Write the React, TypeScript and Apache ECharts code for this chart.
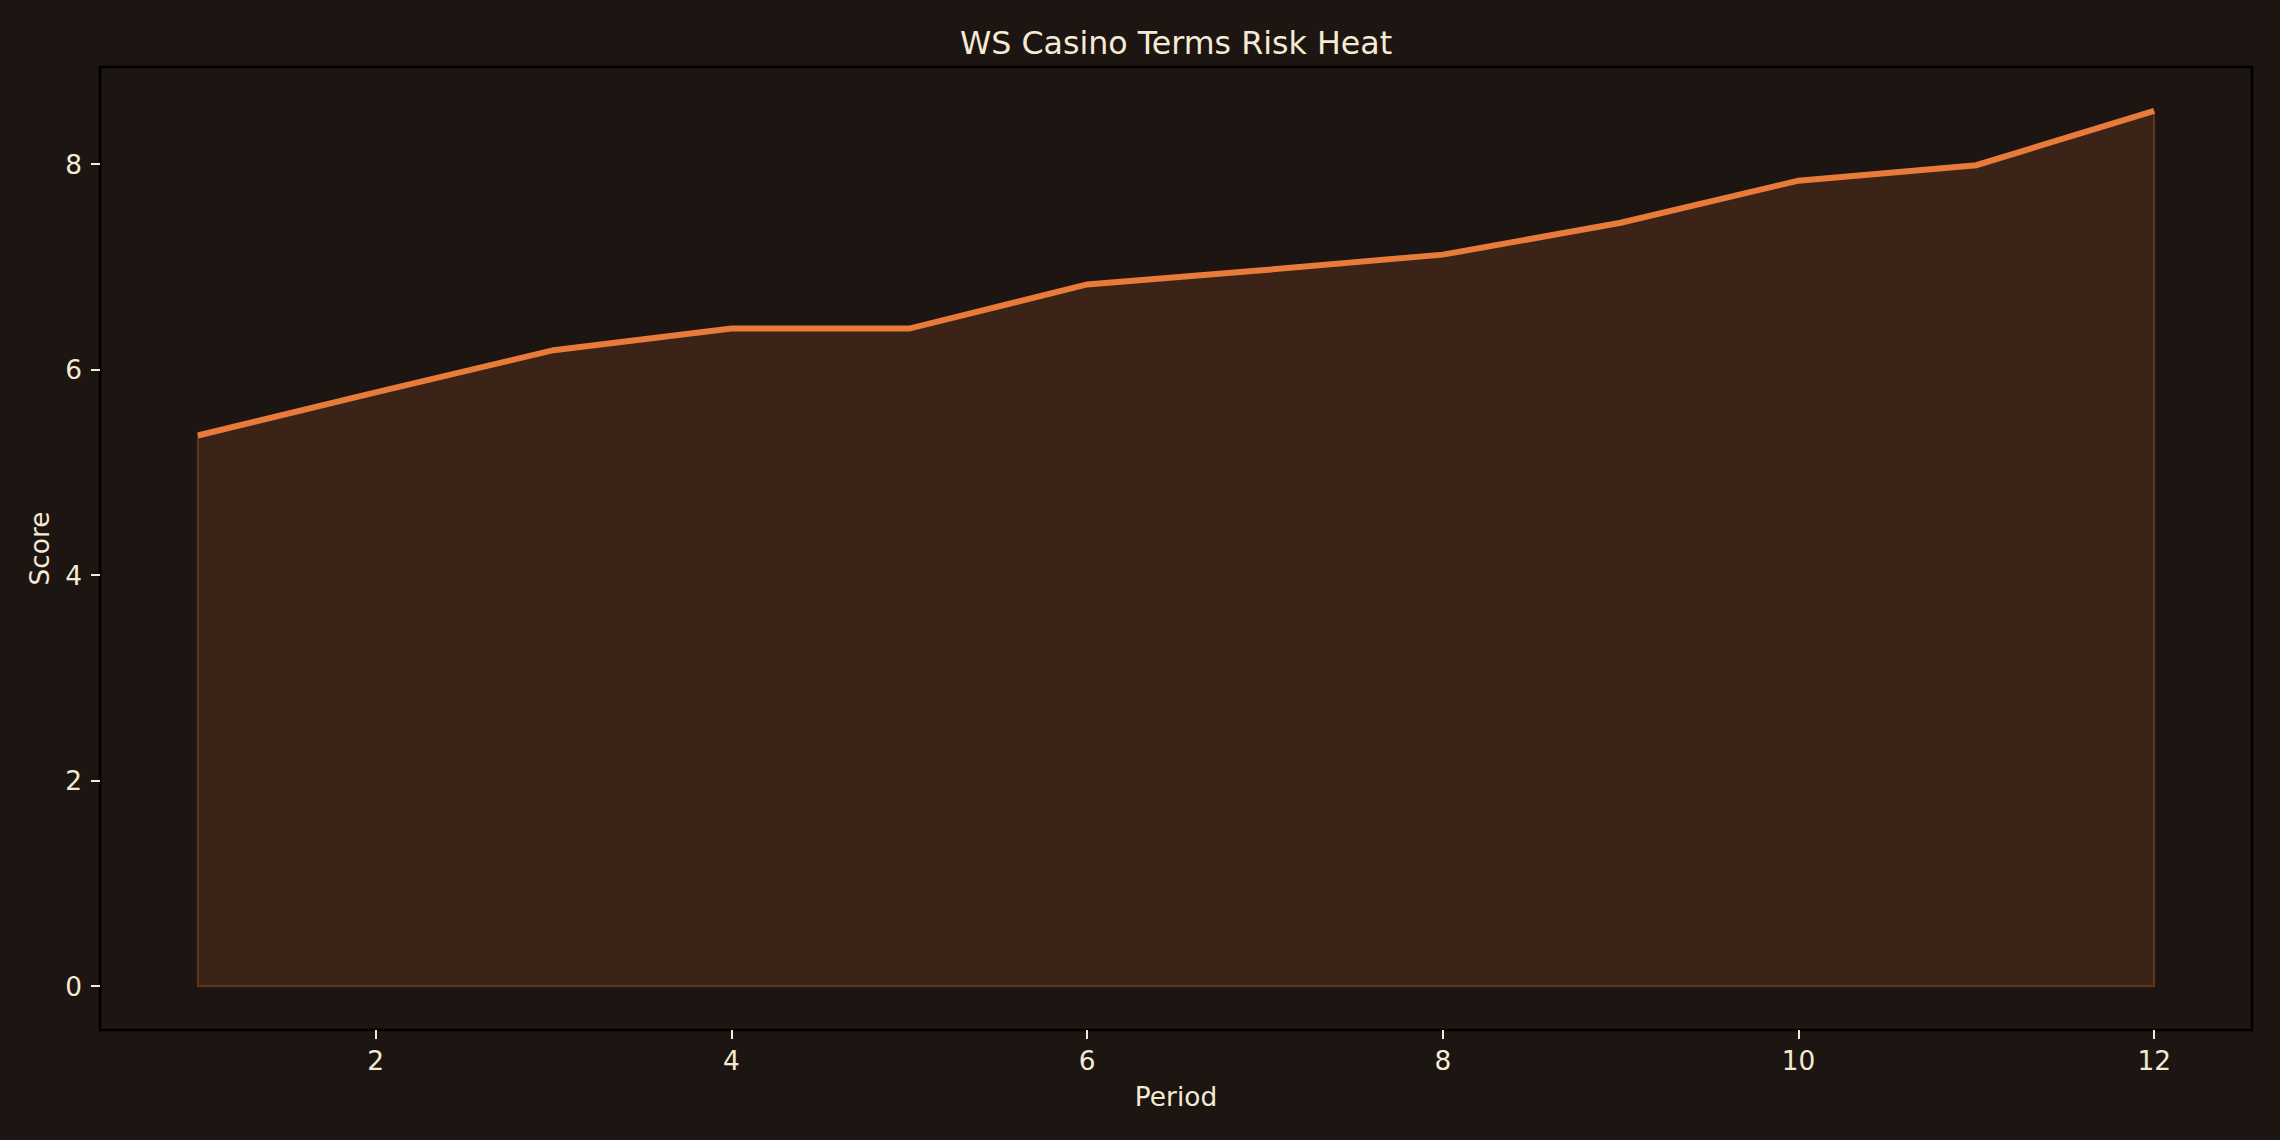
import { useEffect, useRef } from "react";
import * as echarts from "echarts";

const BG = "#1c1511";
const TEXT = "#f5ead3";
const LINE = "#e97b3a";
const FONT = "'DejaVu Sans', sans-serif";

const TITLE = "WS Casino Terms Risk Heat";
const X_NAME = "Period";
const Y_NAME = "Score";

const periods = [1, 2, 3, 4, 5, 6, 7, 8, 9, 10, 11, 12];
const scores = [5.36, 5.78, 6.19, 6.4, 6.4, 6.83, 6.97, 7.12, 7.43, 7.84, 7.99, 8.52];
const xTicks = [2, 4, 6, 8, 10, 12];
const yTicks = [0, 2, 4, 6, 8];

export default function App() {
  const elRef = useRef<HTMLDivElement>(null);

  useEffect(() => {
    const el = elRef.current;
    if (!el) return;
    const chart = echarts.init(el, null, { renderer: "svg" });

    // matplotlib-style 5% margins around the data
    const xSpan = periods[periods.length - 1] - periods[0];
    const yMax = Math.max(...scores);
    const pts = periods.map((p, i) => [p, scores[i]]);
    // outline of the filled region (left edge, baseline, right edge)
    const edge = [
      [periods[0], scores[0]],
      [periods[0], 0],
      [periods[periods.length - 1], 0],
      [periods[periods.length - 1], scores[scores.length - 1]],
    ];

    chart.setOption({
      animation: false,
      backgroundColor: BG,
      textStyle: { fontFamily: FONT },
      title: {
        text: TITLE,
        left: 1176,
        top: 27,
        padding: 0,
        textAlign: "center",
        textStyle: { color: TEXT, fontSize: 31.7, fontWeight: "normal", fontFamily: FONT },
      },
      grid: {
        left: 100,
        right: 28,
        top: 67,
        bottom: 110,
        show: true,
        backgroundColor: BG,
        borderColor: "#000000",
        borderWidth: 2.5,
      },
      xAxis: {
        type: "value",
        min: periods[0] - xSpan * 0.05,
        max: periods[periods.length - 1] + xSpan * 0.05,
        name: X_NAME,
        nameLocation: "middle",
        nameGap: 53,
        nameTextStyle: { color: TEXT, fontSize: 26.4, fontFamily: FONT },
        axisLine: { show: false, onZero: false },
        axisTick: {
          show: true,
          customValues: xTicks,
          length: 9,
          lineStyle: { color: TEXT, width: 2 },
        },
        axisLabel: {
          customValues: xTicks,
          color: TEXT,
          fontSize: 26.4,
          fontFamily: FONT,
          margin: 17,
        },
        splitLine: { show: false },
      },
      yAxis: {
        type: "value",
        min: -yMax * 0.05,
        max: yMax * 1.05,
        name: Y_NAME,
        nameLocation: "middle",
        nameGap: 48,
        nameRotate: 90,
        nameTextStyle: { color: TEXT, fontSize: 26.4, fontFamily: FONT },
        axisLine: { show: false, onZero: false },
        axisTick: {
          show: true,
          customValues: yTicks,
          length: 9,
          lineStyle: { color: TEXT, width: 2 },
        },
        axisLabel: {
          customValues: yTicks,
          color: TEXT,
          fontSize: 26.4,
          fontFamily: FONT,
          margin: 18,
        },
        splitLine: { show: false },
      },
      series: [
        {
          name: "edge",
          type: "line",
          data: edge,
          showSymbol: false,
          silent: true,
          lineStyle: { color: "rgba(233,123,58,0.28)", width: 2 },
          z: 1,
        },
        {
          name: Y_NAME,
          type: "line",
          data: pts,
          showSymbol: false,
          lineStyle: { color: LINE, width: 6, cap: "butt", join: "miter" },
          areaStyle: { color: "rgba(233,123,58,0.22)", origin: 0 },
          z: 2,
        },
      ],
    });

    return () => chart.dispose();
  }, []);

  return (
    <div
      ref={elRef}
      style={{ position: "absolute", left: 0, top: 0, width: 2280, height: 1140 }}
    />
  );
}
